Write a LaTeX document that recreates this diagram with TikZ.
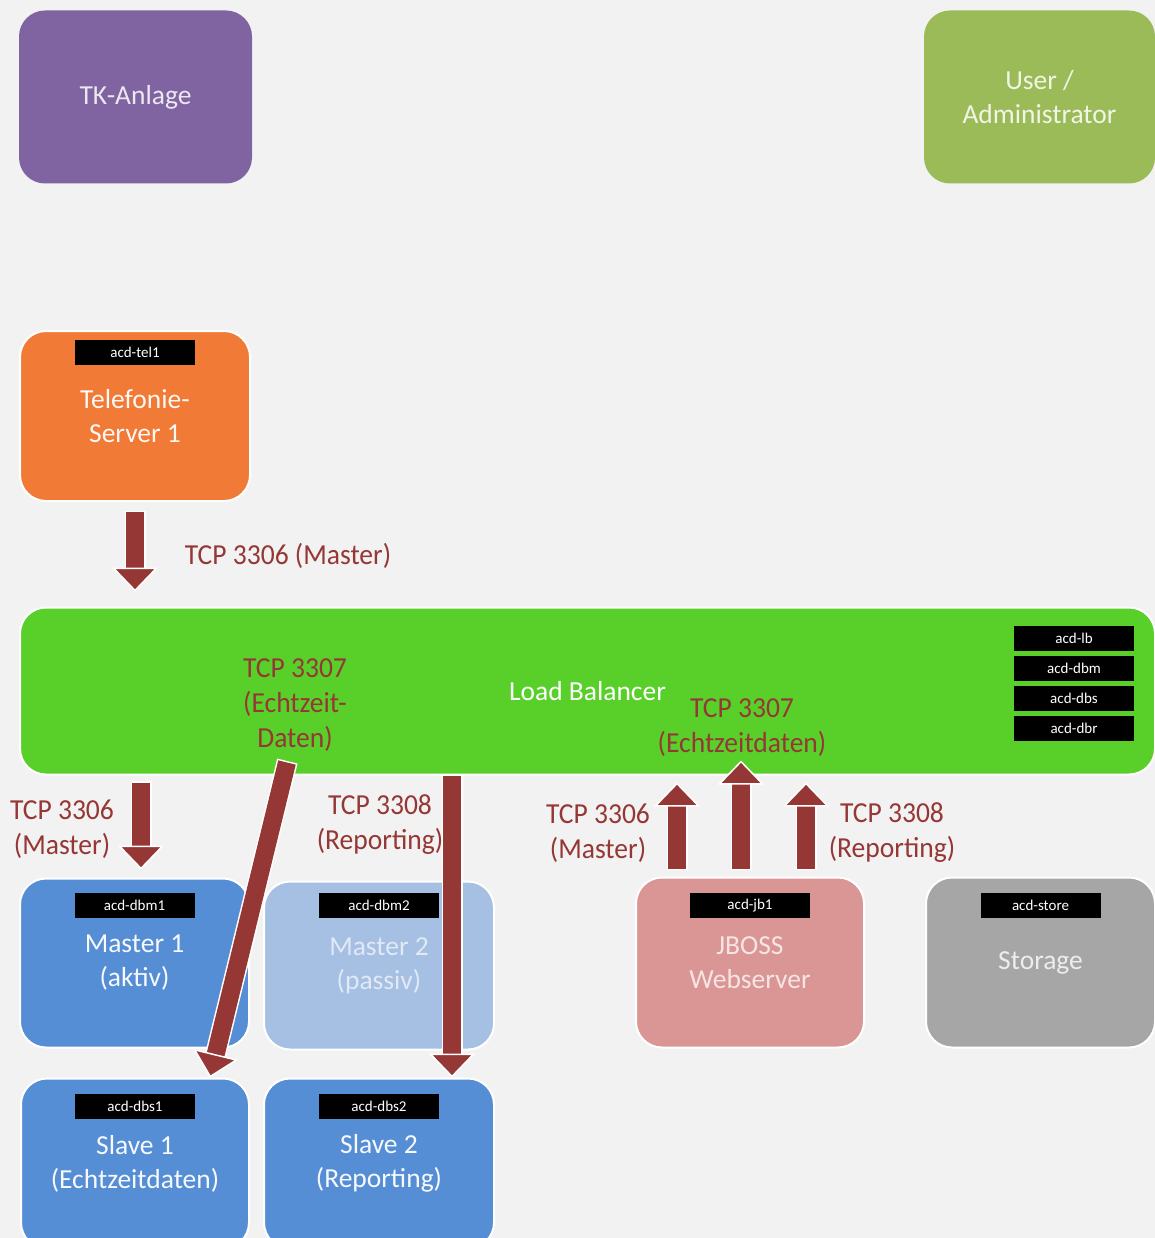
\documentclass[tikz,border=0pt]{standalone}
\usepackage{fontspec}
\setmainfont{Carlito}
\newfontfamily\tcpfont{Carlito}[FakeStretch=0.95]
\usetikzlibrary{positioning,arrows.meta}
\definecolor{acdbg}{RGB}{242,242,242}
\definecolor{acdpurple}{RGB}{128,100,162}
\definecolor{acdolive}{RGB}{155,187,89}
\definecolor{acdorange}{RGB}{241,122,54}
\definecolor{acdgreen}{RGB}{89,208,42}
\definecolor{acdblue}{RGB}{85,142,213}
\definecolor{acdlightblue}{RGB}{166,192,227}
\definecolor{acdpink}{RGB}{217,150,148}
\definecolor{acdgray}{RGB}{166,166,166}
\definecolor{acdred}{RGB}{149,55,53}

\begin{document}
\begin{tikzpicture}[x=1pt,y=-1pt,
  box/.style={rounded corners=26pt,draw=white,line width=2pt,align=center,
    text=white,inner sep=0pt,font=\fontsize{27.5}{34}\selectfont},
  tag/.style={fill=black,text=white,minimum width=120pt,minimum height=25pt,
    inner sep=0pt,font=\fontsize{15}{16}\selectfont},
  tcp/.style={text=acdred,align=center,inner sep=0pt,
    font=\tcpfont\fontsize{29}{35}\selectfont},
  fatarrow/.style={acdred,line width=18pt,
    -{Triangle[width=46pt,length=24pt,line width=1.5pt,color=white,fill=acdred]},
    preaction={draw=white,line width=21pt,-,shorten >=20pt,shorten <=-1.5pt}}]
\useasboundingbox (0,0) rectangle (1155,1238);
\fill[acdbg] (0,0) rectangle (1155,1238);

% Top row
\node[box,draw=none,fill=acdpurple,text=acdpurple!15!white,minimum width=233pt,minimum height=173pt] (tk) at (135.5,97) {TK-Anlage};
\node[box,draw=none,fill=acdolive,text=acdolive!15!white,minimum width=231pt,minimum height=173pt] (user) at (1039.5,97) {User /\\Administrator};

% Telefonie server
\node[box,fill=acdorange,text=white!95!acdorange,minimum width=230pt,minimum height=170pt] (tel) at (135,416) {Telefonie-\\Server 1};
\node[tag,below=10pt of tel.north] (teltag) {acd-tel1};

% Load balancer
\node[box,fill=acdgreen,minimum width=1135pt,minimum height=167pt] (lb) at (587.5,691) {Load Balancer};
\foreach \n [count=\k] in {lb,dbm,dbs,dbr}
  \node[tag] (lbtag\k) at (1074,608.5+30*\k) {acd-\n};

% Database servers
\node[box,fill=acdblue,text=white!95!acdblue,minimum width=229pt,minimum height=169pt] (m1) at (134.5,963) {Master 1\\(aktiv)};
\node[tag,below=15pt of m1.north] (m1tag) {acd-dbm1};
\node[box,fill=acdlightblue,text=white!65!acdlightblue,minimum width=230pt,minimum height=168pt] (m2) at (379,965.5) {Master 2\\(passiv)};
\node[tag,below=12pt of m2.north] (m2tag) {acd-dbm2};
\node[box,fill=acdblue,text=white!95!acdblue,minimum width=228pt,minimum height=170pt] (s1) at (135,1163.5) {Slave 1\\(Echtzeitdaten)};
\node[tag,below=16pt of s1.north] (s1tag) {acd-dbs1};
\node[box,fill=acdblue,text=white!95!acdblue,minimum width=230pt,minimum height=170pt] (s2) at (379,1163.5) {Slave 2\\(Reporting)};
\node[tag,below=16pt of s2.north] (s2tag) {acd-dbs2};

% Web server and storage
\node[box,fill=acdpink,text=white!75!acdpink,minimum width=228pt,minimum height=170pt] (jb) at (750,962.5) {JBOSS\\Webserver};
\node[tag,below=16pt of jb.north] (jbtag) {acd-jb1};
\node[box,fill=acdgray,text=white!80!acdgray,minimum width=229pt,minimum height=170pt] (st) at (1040.5,962.5) {Storage};
\node[tag,below=16pt of st.north] (sttag) {acd-store};

% Port labels
\node[tcp] (teltcp) at (288,556) {TCP 3306 (Master)};
\node[tcp] (rtlb) at (295,705) {TCP 3307\\(Echtzeit-\\Daten)};
\node[tcp] (m1tcp) at (62,829) {TCP 3306\\(Master)};
\node[tcp] (s2tcp) at (380,825) {TCP 3308\\(Reporting)};
\node[tcp] (jbmaster) at (598,833) {TCP 3306\\(Master)};
\node[tcp] (jbrt) at (742,728) {TCP 3307\\(Echtzeitdaten)};
\node[tcp] (jbrep) at (892,833) {TCP 3308\\(Reporting)};

% Connections
\draw[fatarrow] ([yshift=-10pt]tel.south) -- ([yshift=15pt]tel.south |- lb.north);
\draw[fatarrow] ([xshift=6.5pt,yshift=-7pt]m1.north |- lb.south) -- ([xshift=6.5pt,yshift=8pt]m1.north);
\draw[fatarrow] ([xshift=-300.5pt,yshift=13pt]lb.south) -- ([xshift=75pt]s1.north);
\draw[fatarrow] ([xshift=-135.5pt]lb.south) -- ([xshift=73pt]s2.north);
\foreach \dx/\dy in {-73pt/-7pt,-9pt/15pt,56pt/-7pt}
  \draw[fatarrow] ([xshift=\dx,yshift=8pt]jb.north) -- ([xshift=\dx,yshift=\dy]jb.north |- lb.south);
\end{tikzpicture}
\end{document}
